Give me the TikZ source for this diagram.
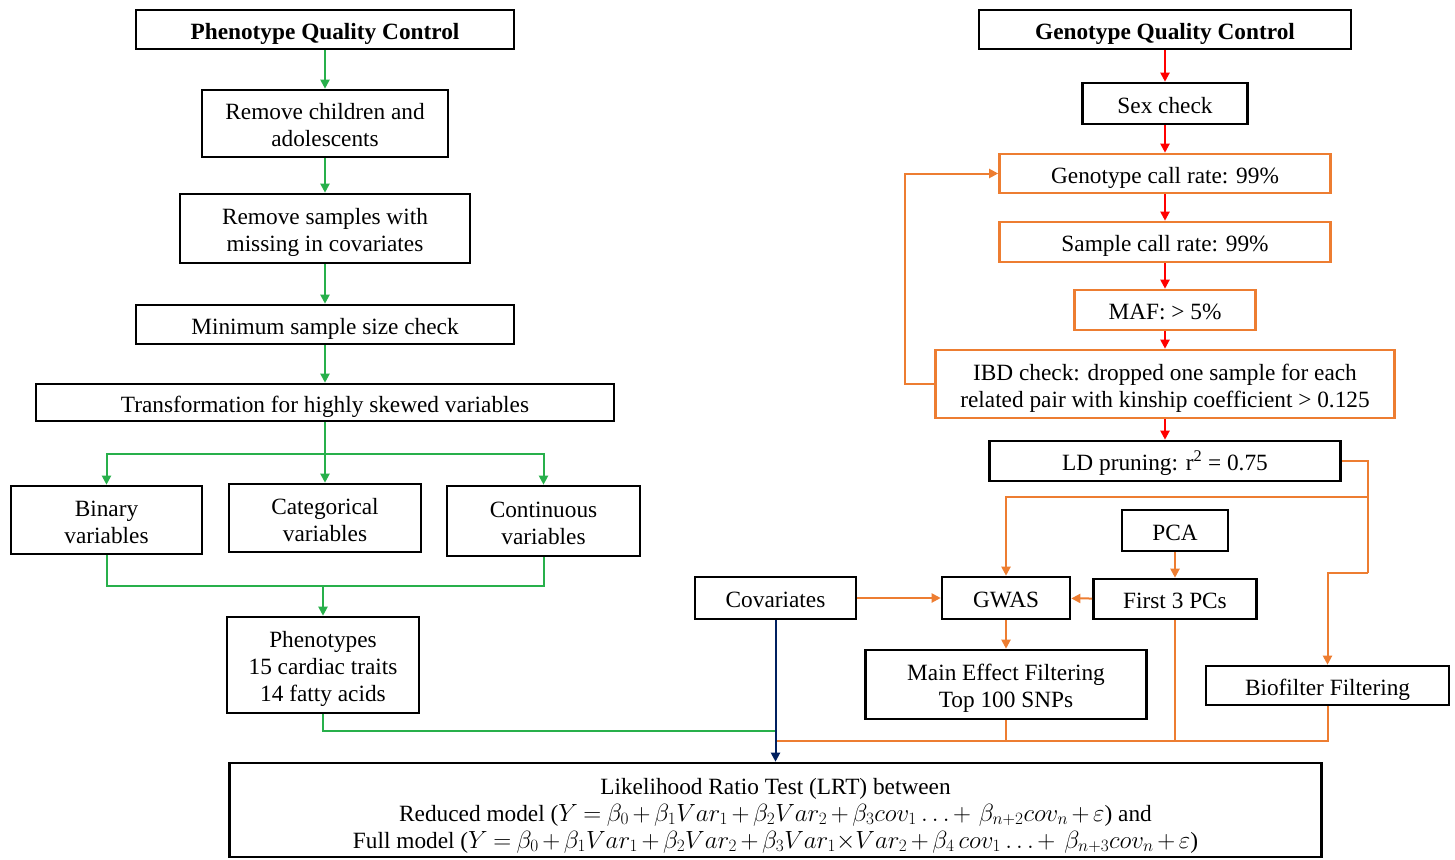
\documentclass[tikz,border=0pt]{standalone}
\usepackage{fontspec}
\usepackage{array}
\setmainfont{Liberation Serif}
\usetikzlibrary{arrows.meta,calc}
\definecolor{grn}{RGB}{40,176,75}
\definecolor{org}{RGB}{237,125,49}
\definecolor{navy}{RGB}{0,32,96}
\newcommand\linestrut{\rule[-5.8pt]{0pt}{27pt}}
\newsavebox\mlbox
\newcommand\ml[2][4pt]{\sbox\mlbox{\renewcommand\arraystretch{0}\begin{tabular}{@{}>{\linestrut}c@{}}#2\end{tabular}}\rule{0pt}{\dimexpr\ht\mlbox+#1\relax}\usebox\mlbox}
\begin{document}
\medmuskip=2.6mu
\thickmuskip=4mu
\begin{tikzpicture}[x=1pt,y=-1pt,
  box/.style={draw=black, line width=2.6pt, inner sep=0pt,
    font=\fontsize{23.3}{27}\selectfont},
  obox/.style={box, draw=org},
  tip/.style={-{Triangle[length=9pt,width=9pt]}},
  gline/.style={draw=grn, line width=2pt},
  garrow/.style={gline, tip},
  oline/.style={draw=org, line width=2pt},
  oarrow/.style={oline, tip},
  rarrow/.style={draw=red, line width=2pt, tip},
  narrow/.style={draw=navy, line width=2pt, tip}]
\useasboundingbox (0,0) rectangle (1455,859);

% Phenotype side
\node[box, minimum width=378, minimum height=39, font=\fontsize{23.3}{27}\selectfont\bfseries] (pqc) at (325,29.5) {\ml{Phenotype Quality Control}};
\node[box, minimum width=246, minimum height=67] (rc) at (325,123.5) {\ml{Remove children and\\adolescents}};
\node[box, minimum width=290, minimum height=69] (rs) at (325,228.5) {\ml{Remove samples with\\missing in covariates}};
\node[box, minimum width=378, minimum height=39] (ms) at (325,324.5) {\ml{Minimum sample size check}};
\node[box, minimum width=578, minimum height=37] (tf) at (325,402.5) {\ml{Transformation for highly skewed variables}};
\node[box, minimum width=191, minimum height=68] (bin) at (106.5,520) {\ml{Binary\\variables}};
\node[box, minimum width=192, minimum height=68] (cat) at (325,518) {\ml{Categorical\\variables}};
\node[box, minimum width=193, minimum height=70] (con) at (543.5,521) {\ml{Continuous\\variables}};
\node[box, minimum width=192, minimum height=96] (phe) at (323,665) {\ml{Phenotypes\\15 cardiac traits\\14 fatty acids}};

% Middle / bottom
\node[box, minimum width=161, minimum height=42] (cov) at (775.5,598) {\ml{Covariates}};
\node[box, minimum width=1092, minimum height=94] (lrt) at (775.5,810) {\ml[7pt]{Likelihood Ratio Test (LRT) between\\
Reduced model ($Y=\beta_0+\beta_1 Var_1+\beta_2 Var_2+\beta_3 cov_1 \ldots+\,\beta_{n+2}cov_n+\varepsilon$) and\\
Full model ($Y=\beta_0+\beta_1 Var_1+\beta_2 Var_2+\beta_3 Var_1{\times}Var_2+\beta_4\,cov_1\ldots+\;\beta_{n+3}cov_n+\varepsilon$)}};

% Genotype side
\node[box, minimum width=372, minimum height=39, font=\fontsize{23.3}{27}\selectfont\bfseries] (gqc) at (1165,29.5) {\ml{Genotype Quality Control}};
\node[box, minimum width=165, minimum height=41] (sex) at (1165,103.5) {\ml{Sex check}};
\node[obox, minimum width=331, minimum height=39] (gcr) at (1165,173.5) {\ml{Genotype call rate: 99\%}};
\node[obox, minimum width=331, minimum height=40] (scr) at (1165,242) {\ml{Sample call rate: 99\%}};
\node[obox, minimum width=181, minimum height=40] (maf) at (1165,310) {\ml{MAF: > 5\%}};
\node[obox, minimum width=459, minimum height=68] (ibd) at (1165,384) {\ml{IBD check: dropped one sample for each\\related pair with kinship coefficient > 0.125}};
\node[box, minimum width=351, minimum height=40] (ld) at (1165,461) {\ml{LD pruning: r\textsuperscript{2} = 0.75}};
\node[box, minimum width=106, minimum height=41] (pca) at (1175,530.5) {\ml{PCA}};
\node[box, minimum width=163, minimum height=40] (pcs) at (1175,599) {\ml{First 3 PCs}};
\node[box, minimum width=128, minimum height=42] (gwas) at (1006,598) {\ml{GWAS}};
\node[box, minimum width=281, minimum height=69] (me) at (1006,684.5) {\ml{Main Effect Filtering\\Top 100 SNPs}};
\node[box, minimum width=243, minimum height=39] (bio) at (1327.5,685.5) {\ml{Biofilter Filtering}};

% coordinates
\coordinate (sp) at (325,454);
\coordinate (mg) at (323,586);
\coordinate (gj) at (775.5,731);
\coordinate (oj) at (775.5,741);
\coordinate (ldr) at (1368,461);
\coordinate (ldb) at (1368,497);
\coordinate (ldc) at (1368,573);

% green connectors
\draw[garrow] (pqc) -- (rc);
\draw[garrow] (rc) -- (rs);
\draw[garrow] (rs) -- (ms);
\draw[garrow] (ms) -- (tf);
\draw[garrow] (tf.south) -- (cat.north);
\draw[garrow] (sp) -| (bin.north);
\draw[garrow] (sp) -| (con.north);
\draw[gline] (bin.south) |- (mg) -| (con.south);
\draw[garrow] (mg) -- (mg |- phe.north);
\draw[gline] (phe.south) |- (gj);

% red connectors
\draw[rarrow] (gqc) -- (sex);
\draw[rarrow] (sex) -- (gcr);
\draw[rarrow] (gcr) -- (scr);
\draw[rarrow] (scr) -- (maf);
\draw[rarrow] (maf) -- (ibd);
\draw[rarrow] (ibd) -- (ld);

% orange connectors
\draw[oarrow] (ibd.west) -- ++(-29,0) |- (gcr.west);
\draw[oline] (ld.east) -- (ldr) -- (ldc);
\draw[oarrow] (ldc) -| (bio.north);
\draw[oarrow] (ldb) -| (gwas.north);
\draw[oarrow] (pca) -- (pcs);
\draw[oarrow] (pcs) -- (gwas);
\draw[oarrow] (cov) -- (gwas);
\draw[oarrow] (gwas) -- (me);
\draw[oline] (bio.south) |- (oj);
\draw[oline] (pcs.south) -- (pcs.south |- oj);
\draw[oline] (me.south) -- (me.south |- oj);

% navy connector
\draw[narrow] (cov.south) -- (cov.south |- lrt.north);
\end{tikzpicture}
\end{document}
